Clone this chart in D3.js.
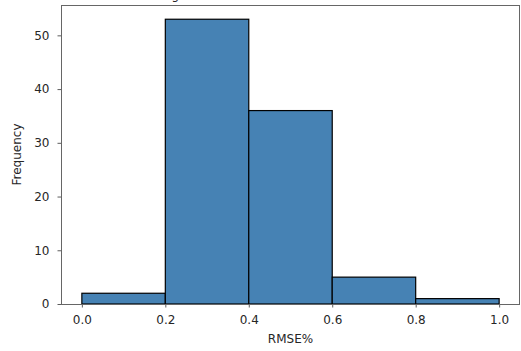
<!DOCTYPE html>
<html lang="en">
<head>
  <meta charset="UTF-8">
  <title>RMSE% histogram</title>
  <script src="https://cdn.jsdelivr.net/npm/d3@7"></script>
  <style>
    body { margin: 0; padding: 0; background: #fff; }
    text { font-family: "DejaVu Sans", sans-serif; fill: #262626; }
  </style>
</head>
<body>
<div id="chart"></div>

<script>
  // histogram bins (RMSE%) and counts
  const binEdges = [0.0, 0.2, 0.4, 0.6, 0.8, 1.0];
  const counts = [2, 53, 36, 5, 1];
  const xTicks = [0.0, 0.2, 0.4, 0.6, 0.8, 1.0];
  const yTicks = [0, 10, 20, 30, 40, 50];
  const title = "Histogram of RMSE% values over all the test data";

  const width = 521, height = 351;
  const margin = { top: 5, right: 1, bottom: 47, left: 61 };

  const bins = counts.map((c, i) => ({ x0: binEdges[i], x1: binEdges[i + 1], count: c }));

  const svg = d3.select("#chart").append("svg")
    .attr("width", width)
    .attr("height", height);

  // matplotlib style 5% margins on x, ylim up to max * 1.05
  const x = d3.scaleLinear()
    .domain([-0.05, 1.05])
    .range([margin.left, width - margin.right]);
  const y = d3.scaleLinear()
    .domain([0, d3.max(counts) * 1.05])
    .range([height - margin.bottom, margin.top]);

  // bars
  svg.append("g")
    .selectAll("rect")
    .data(bins)
    .join("rect")
    .attr("x", d => x(d.x0))
    .attr("y", d => y(d.count))
    .attr("width", d => x(d.x1) - x(d.x0))
    .attr("height", d => y(0) - y(d.count))
    .attr("fill", "steelblue")
    .attr("stroke", "#000")
    .attr("stroke-width", 1.2);

  // axes
  const xAxis = svg.append("g")
    .attr("transform", `translate(0,${height - margin.bottom})`)
    .call(d3.axisBottom(x).tickValues(xTicks).tickFormat(d3.format(".1f")).tickSize(3.5).tickPadding(8));
  const yAxis = svg.append("g")
    .attr("transform", `translate(${margin.left},0)`)
    .call(d3.axisLeft(y).tickValues(yTicks).tickSize(3.5).tickPadding(8));

  [xAxis, yAxis].forEach(g => {
    g.select(".domain").remove();
    g.selectAll("line").attr("stroke", "#333").attr("stroke-width", 0.8);
    g.selectAll("text")
      .style("font-size", "12px")
      .style("font-family", "DejaVu Sans, sans-serif")
      .attr("fill", "#262626");
  });

  // frame
  const [l, r] = x.range();
  const [b, t] = y.range();
  svg.append("rect")
    .attr("x", l + 0.5)
    .attr("y", t + 0.5)
    .attr("width", r - l - 1)
    .attr("height", b - t)
    .attr("fill", "none")
    .attr("stroke", "#666")
    .attr("stroke-width", 1);

  // labels
  svg.append("text")
    .attr("x", (l + r) / 2)
    .attr("y", 343)
    .attr("text-anchor", "middle")
    .style("font-size", "12px")
    .text("RMSE%");

  svg.append("text")
    .attr("transform", `translate(21,${(t + b) / 2}) rotate(-90)`)
    .attr("text-anchor", "middle")
    .style("font-size", "12px")
    .text("Frequency");

  // title sits mostly above the visible area
  svg.append("text")
    .attr("x", (l + r) / 2)
    .attr("y", -1)
    .attr("text-anchor", "middle")
    .style("font-size", "12px")
    .text(title);
</script>
</body>
</html>
